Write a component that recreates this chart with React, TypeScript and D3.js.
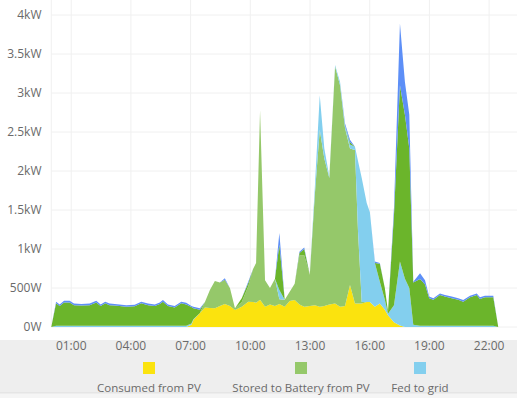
import * as d3 from 'd3';

// time of day in hours (irregular samples)
const hours = [
  0, 0.24, 0.42, 0.64, 0.92, 1.14, 1.51, 1.93, 2.26, 2.48, 2.71, 2.93, 3.19, 3.77, 4.19, 4.52, 4.86, 5.2, 5.45, 5.61,
  5.86, 6.2, 6.53, 6.78, 7.04, 7.14, 7.47, 7.72, 7.97, 8.22, 8.47, 8.72, 8.98, 9.23, 9.57, 9.9, 10.15, 10.29, 10.49,
  10.74, 10.99, 11.24, 11.46, 11.73, 11.98, 12.23, 12.47, 12.71, 12.99, 13.24, 13.49, 13.72, 13.97, 14.26, 14.51,
  14.76, 15.01, 15.26, 15.41, 15.6, 15.85, 16.01, 16.26, 16.51, 16.76, 16.92, 17.22, 17.52, 17.77, 17.99, 18.19,
  18.53, 18.78, 18.99, 19.2, 19.53, 19.78, 20.12, 20.45, 20.7, 21.04, 21.38, 21.54, 21.79, 22.21, 22.46,
];

// kW per series
const consumedFromPV = [
  0, 0, 0, 0, 0, 0, 0, 0, 0, 0, 0, 0, 0, 0, 0, 0, 0, 0, 0, 0,
  0, 0, 0, 0, 0.03, 0.09, 0.18, 0.25, 0.244, 0.24, 0.27, 0.295, 0.27, 0.218, 0.26, 0.324, 0.32, 0.31, 0.35,
  0.26, 0.29, 0.27, 0.295, 0.26, 0.333, 0.346, 0.29, 0.26, 0.27, 0.28, 0.26, 0.27, 0.29, 0.3, 0.26,
  0.27, 0.54, 0.3, 0.3, 0.3, 0.32, 0.32, 0.26, 0.3, 0.22, 0.15, 0.06, 0.02, 0, 0, 0,
  0, 0, 0, 0, 0, 0, 0, 0, 0, 0, 0, 0, 0, 0, 0,
];
const storedToBattery = [
  0, 0, 0, 0, 0, 0, 0, 0, 0, 0, 0, 0, 0, 0, 0, 0, 0, 0, 0, 0,
  0, 0, 0, 0, 0, 0, 0, 0.07, 0.23, 0.35, 0.3, 0.31, 0.226, 0.022, 0.06, 0.2, 0.43, 0.51, 2.43,
  0.34, 0.21, 0.35, 0.06, 0.09, 0.12, 0.21, 0.63, 0.66, 0.4, 1.41, 2.27, 1.89, 1.62, 3.04, 2.84,
  2.28, 1.75, 1.97, 0.94, 0.02, 0, 0, 0, 0, 0, 0, 0, 0, 0, 0, 0,
  0, 0, 0, 0, 0, 0, 0, 0, 0, 0, 0, 0, 0, 0, 0,
];
const fedToGrid = [
  0, 0.015, 0.015, 0.015, 0.015, 0.015, 0.015, 0.015, 0.015, 0.015, 0.015, 0.015, 0.015, 0.015, 0.015, 0.015, 0.015, 0.015, 0.015, 0.015,
  0.015, 0.015, 0.015, 0.015, 0.015, 0.01, 0, 0, 0, 0, 0, 0, 0, 0, 0, 0, 0, 0, 0,
  0, 0, 0, 0.12, 0, 0, 0, 0, 0, 0, 0.09, 0.44, 0.13, 0.02, 0.02, 0.04,
  0.03, 0.05, 0.04, 0.89, 1.59, 1.27, 1.15, 0.56, 0.28, 0.13, 0.02, 0.22, 0.82, 0.62, 0.5, 0.03,
  0.015, 0.015, 0.015, 0.015, 0.015, 0.015, 0.015, 0.015, 0.015, 0.015, 0.015, 0.015, 0.015, 0.015, 0,
];
const consumedFromBattery = [
  0, 0.29, 0.255, 0.3, 0.3, 0.265, 0.26, 0.265, 0.3, 0.255, 0.29, 0.265, 0.26, 0.245, 0.25, 0.29, 0.265, 0.255, 0.28, 0.31,
  0.255, 0.235, 0.29, 0.275, 0.21, 0.14, 0.04, 0, 0, 0, 0, 0, 0, 0, 0.05, 0.04, 0, 0, 0,
  0, 0, 0, 0.58, 0, 0, 0, 0.03, 0.08, 0, 0, 0, 0, 0, 0, 0,
  0, 0.03, 0, 0, 0, 0, 0, 0, 0.23, 0.15, 0.03, 1.16, 2.26, 2.1, 1.79, 0.54,
  0.6, 0.53, 0.355, 0.335, 0.395, 0.375, 0.355, 0.335, 0.31, 0.365, 0.395, 0.345, 0.365, 0.365, 0,
];
const consumedFromGrid = [
  0, 0.02, 0.02, 0.02, 0.02, 0.02, 0.02, 0.02, 0.02, 0.02, 0.02, 0.02, 0.02, 0.02, 0.02, 0.02, 0.02, 0.02, 0.02, 0.02,
  0.02, 0.02, 0.02, 0.02, 0.015, 0.02, 0.02, 0, 0, 0, 0, 0.02, 0, 0, 0, 0.02, 0, 0, 0,
  0, 0, 0, 0.15, 0, 0, 0, 0.015, 0.02, 0, 0, 0, 0, 0, 0, 0,
  0.03, 0.03, 0, 0, 0, 0, 0, 0.02, 0.01, 0, 0, 0.09, 0.79, 0.42, 0.43, 0.01,
  0.075, 0.055, 0.02, 0.02, 0.02, 0.02, 0.02, 0.02, 0.02, 0.02, 0.02, 0.02, 0.02, 0.02, 0,
];

const yTicks = [0, 0.5, 1, 1.5, 2, 2.5, 3, 3.5, 4];
const xTicks = [1, 4, 7, 10, 13, 16, 19, 22];

const keys = ['consumed', 'stored', 'fed', 'battery', 'grid'];
const colors: Record<string, string> = {
  consumed: '#fbe30e',
  stored: '#95c86a',
  fed: '#83cfee',
  battery: '#6bb52b',
  grid: '#5d8ff7',
};
const legend = [
  { key: 'consumed', label: 'Consumed from PV', cx: 149 },
  { key: 'stored', label: 'Stored to Battery from PV', cx: 301 },
  { key: 'fed', label: 'Fed to grid', cx: 420 },
];

const W = 517;
const H = 398;
const font = '"Open Sans", "Noto Sans", sans-serif';

export default function App() {
  const rows = hours.map((h, i) => ({
    h,
    consumed: consumedFromPV[i],
    stored: storedToBattery[i],
    fed: fedToGrid[i],
    battery: consumedFromBattery[i],
    grid: consumedFromGrid[i],
  }));

  const x = d3.scaleLinear().domain([0, 22]).range([51.3, 489.1]);
  const y = d3.scaleLinear().domain([0, 4]).range([327, 15]);

  const series = d3.stack<any>().keys(keys)(rows);
  const area = d3
    .area<any>()
    .x((d) => x(d.data.h))
    .y0((d) => y(d[0]))
    .y1((d) => y(d[1]));

  const fmt = (v: number) => (v === 0 ? '0W' : v < 1 ? `${v * 1000}W` : `${v}kW`);

  return (
    <svg width={W} height={H} style={{ position: 'absolute', left: 0, top: 0 }} fontFamily={font}>
      <rect x={0} y={0} width={W} height={H} fill="#fff" />
      {/* grid */}
      {yTicks.map((t) => (
        <line key={`gy${t}`} x1={51.3} x2={W} y1={y(t)} y2={y(t)} stroke="#f0f0f0" strokeWidth={1} />
      ))}
      <line x1={51.3} x2={51.3} y1={0} y2={327} stroke="#f0f0f0" />
      {xTicks.map((t) => (
        <line key={`gx${t}`} x1={x(t)} x2={x(t)} y1={0} y2={327} stroke="#f0f0f0" strokeWidth={1} />
      ))}
      {/* areas */}
      {series.map((s) => (
        <path key={s.key} d={area(s) ?? ''} fill={colors[s.key]} stroke="none" />
      ))}
      {/* y labels */}
      {yTicks.map((t) => (
        <text key={`ly${t}`} x={41.5} y={y(t)} dy="0.35em" textAnchor="end" fontSize={12} fill="#6a6a6a">
          {fmt(t)}
        </text>
      ))}
      {/* bottom band */}
      <rect x={0} y={340} width={W} height={53} fill="#eeeeee" />
      <line x1={0} x2={W} y1={393} y2={393} stroke="#dcdcdc" />
      <rect x={0} y={394} width={W} height={4} fill="#f5f5f5" />
      {xTicks.map((t) => (
        <text key={`lx${t}`} x={x(t)} y={346} dy="0.35em" textAnchor="middle" fontSize={12} fill="#6a6a6a">
          {`${String(t).padStart(2, '0')}:00`}
        </text>
      ))}
      {legend.map((l) => (
        <g key={l.key}>
          <rect x={l.cx - 6} y={362} width={12} height={12} fill={colors[l.key]} />
          <text x={l.cx} y={388} dy="0.35em" textAnchor="middle" fontSize={11.5} fill="#6a6a6a">
            {l.label}
          </text>
        </g>
      ))}
    </svg>
  );
}
